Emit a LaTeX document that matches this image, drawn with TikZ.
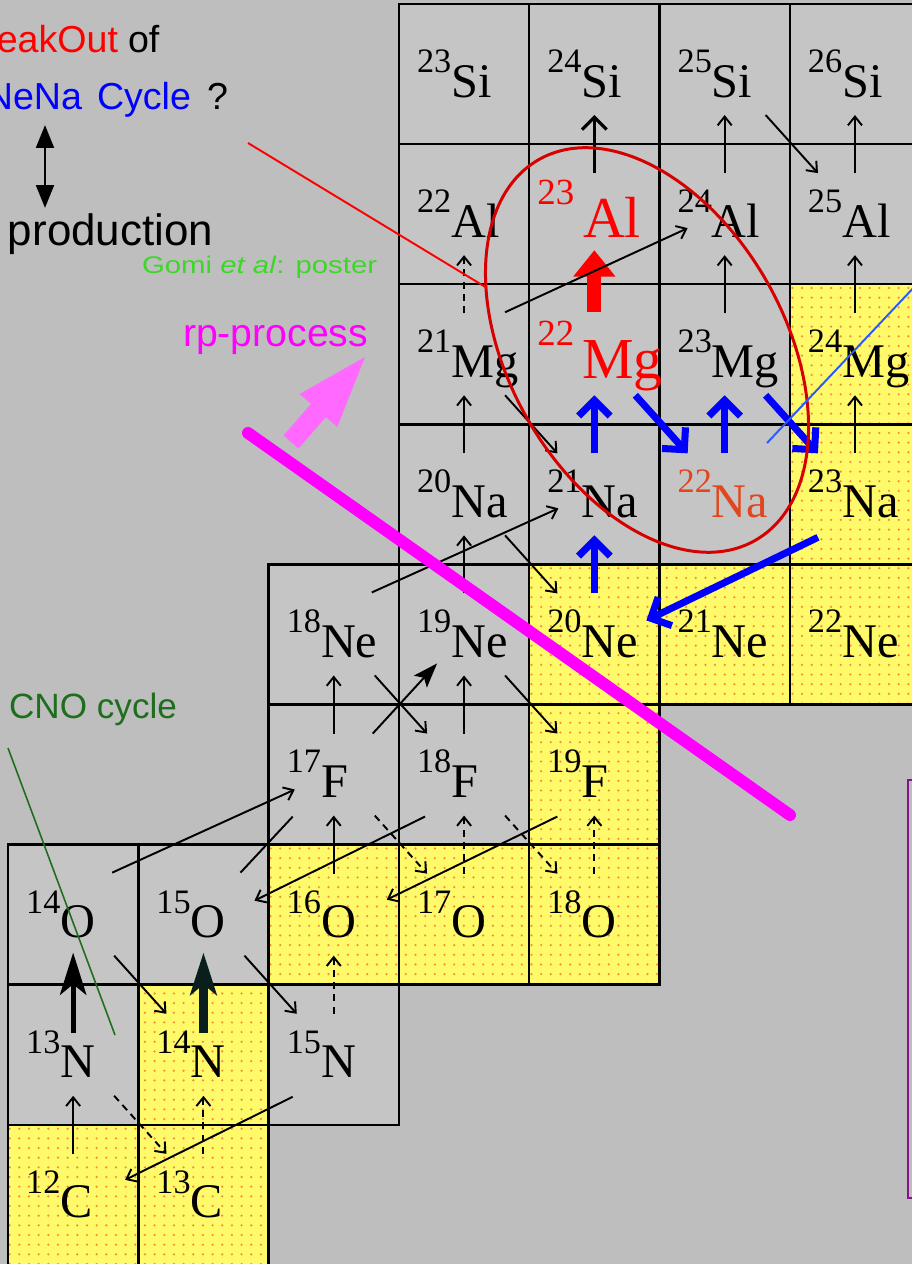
\documentclass[tikz,border=0pt]{standalone}
\usepackage{fontspec}
\setmainfont{Liberation Serif}
\newfontfamily\sansf{Liberation Sans}
\usepackage{graphicx}
\usetikzlibrary{calc,arrows.meta,patterns}

\pgfdeclarepatternformonly{sparsedots}{\pgfqpoint{-1pt}{-1pt}}{\pgfqpoint{1pt}{1pt}}{\pgfqpoint{5.5pt}{5.5pt}}{\pgfpathcircle{\pgfqpoint{0pt}{0pt}}{0.7pt}\pgfusepath{fill}}

\definecolor{bg}{RGB}{190,190,190}
\definecolor{cellg}{RGB}{197,197,197}
\definecolor{yel}{RGB}{255,250,105}
\definecolor{dotc}{RGB}{245,140,60}
\definecolor{blu}{RGB}{0,0,255}
\definecolor{thinblue}{RGB}{40,90,255}
\definecolor{ellred}{RGB}{215,0,0}
\definecolor{mag}{RGB}{255,0,255}
\definecolor{pinkarr}{RGB}{255,105,255}
\definecolor{naor}{RGB}{225,70,30}
\definecolor{cnogreen}{RGB}{30,110,30}
\definecolor{gomigreen}{RGB}{60,215,40}
\definecolor{purp}{RGB}{130,20,140}
\definecolor{darkteal}{RGB}{10,30,30}

\newcommand\cellat[4]{%
  \path[#4] ({8+130.3*#2},{4+140.1*#3}) rectangle ++(130.3,140.1);
  \coordinate (#1) at ({73.15+130.3*#2},{74.05+140.1*#3});}
\newcommand\cellborder[1]{\draw[cellln] ($(#1)+(-65.15,-70.05)$) rectangle ($(#1)+(65.15,70.05)$);}
\newcommand\labat[4]{\node[lab,text=#4] (#1l) at ($(#1)+(-47,23)$)
  {\raisebox{14pt}{\fontsize{19.5}{20}\selectfont #2}\fontsize{27.5}{28}\selectfont #3};}
\newcommand\pcap[3][tarr]{\draw[#1] ($(#2)+(0,-41)$) -- ($(#3)+(0,41)$);}
\newcommand\bdec[3][tarr]{\draw[#1] ($(#2)+(41,41)$) -- ($(#3)+(-37,-41)$);}

\tikzset{
 lab/.style={anchor=base west, inner sep=0pt, outer sep=0pt},
 gcell/.style={fill=cellg},
 ycell/.style={fill=yel, postaction={pattern=sparsedots, pattern color=dotc}},
 cellln/.style={draw=black, line width=1.4pt},
 tarr/.style={line width=1.1pt, -{Straight Barb[length=5pt,width=8pt]}},
 darr/.style={tarr, dash pattern=on 4pt off 3pt},
 boldarr/.style={line width=1.8pt, -{Straight Barb[length=7pt,width=14pt]}},
 blarr/.style={draw=blu, line width=4pt, -{Straight Barb[length=9pt,width=18pt]}},
 redblk/.style={draw=red, line width=8pt, -{Triangle[length=15pt,width=23pt]}},
 bigarr/.style={line width=2.8pt, -{Stealth[length=24pt,width=15pt,inset=6pt]}},
 boldtip/.style={line width=1.1pt, -{Stealth[length=14pt,width=10pt,inset=3pt]}},
 thinline/.style={line width=1.1pt},
 dblarr/.style={line width=1.7pt, {Triangle[length=13pt,width=10pt]}-{Triangle[length=13pt,width=10pt]}},
 ttl/.style={lab, font={\sansf\fontsize{21.4}{24}\selectfont}},
}

\begin{document}
\begin{tikzpicture}[x=0.02cm,y=-0.02cm]
\useasboundingbox (0,0) rectangle (912,1264);
\clip (0,0) rectangle (912,1264);
\fill[bg] (0,0) rectangle (912,1264);

% cells
\cellat{Si23}{3}{0}{gcell}\cellat{Si24}{4}{0}{gcell}\cellat{Si25}{5}{0}{gcell}\cellat{Si26}{6}{0}{gcell}
\cellat{Al22}{3}{1}{gcell}\cellat{Al23}{4}{1}{gcell}\cellat{Al24}{5}{1}{gcell}\cellat{Al25}{6}{1}{gcell}
\cellat{Mg21}{3}{2}{gcell}\cellat{Mg22}{4}{2}{gcell}\cellat{Mg23}{5}{2}{gcell}\cellat{Mg24}{6}{2}{ycell}
\cellat{Na20}{3}{3}{gcell}\cellat{Na21}{4}{3}{gcell}\cellat{Na22}{5}{3}{gcell}\cellat{Na23}{6}{3}{ycell}
\cellat{Ne18}{2}{4}{gcell}\cellat{Ne19}{3}{4}{gcell}\cellat{Ne20}{4}{4}{ycell}\cellat{Ne21}{5}{4}{ycell}\cellat{Ne22}{6}{4}{ycell}
\cellat{F17}{2}{5}{gcell}\cellat{F18}{3}{5}{gcell}\cellat{F19}{4}{5}{ycell}
\cellat{O14}{0}{6}{gcell}\cellat{O15}{1}{6}{gcell}\cellat{O16}{2}{6}{ycell}\cellat{O17}{3}{6}{ycell}\cellat{O18}{4}{6}{ycell}
\cellat{N13}{0}{7}{gcell}\cellat{N14}{1}{7}{ycell}\cellat{N15}{2}{7}{gcell}
\cellat{C12}{0}{8}{ycell}\cellat{C13}{1}{8}{ycell}
\foreach \n in {Si23,Si24,Si25,Si26,Al22,Al23,Al24,Al25,Mg21,Mg22,Mg23,Mg24,Na20,Na21,Na22,Na23,Ne18,Ne19,Ne20,Ne21,Ne22,F17,F18,F19,O14,O15,O16,O17,O18,N13,N14,N15,C12,C13}{\cellborder{\n}}

% labels
\labat{Si23}{23}{Si}{black}\labat{Si24}{24}{Si}{black}\labat{Si25}{25}{Si}{black}\labat{Si26}{26}{Si}{black}
\labat{Al22}{22}{Al}{black}\labat{Al24}{24}{Al}{black}\labat{Al25}{25}{Al}{black}
\labat{Mg21}{21}{Mg}{black}\labat{Mg23}{23}{Mg}{black}\labat{Mg24}{24}{Mg}{black}
\labat{Na20}{20}{Na}{black}\labat{Na21}{21}{Na}{black}\labat{Na22}{22}{Na}{naor}\labat{Na23}{23}{Na}{black}
\labat{Ne18}{18}{Ne}{black}\labat{Ne19}{19}{Ne}{black}\labat{Ne20}{20}{Ne}{black}\labat{Ne21}{21}{Ne}{black}\labat{Ne22}{22}{Ne}{black}
\labat{F17}{17}{F}{black}\labat{F18}{18}{F}{black}\labat{F19}{19}{F}{black}
\labat{O14}{14}{O}{black}\labat{O15}{15}{O}{black}\labat{O16}{16}{O}{black}\labat{O17}{17}{O}{black}\labat{O18}{18}{O}{black}
\labat{N13}{13}{N}{black}\labat{N14}{14}{N}{black}\labat{N15}{15}{N}{black}
\labat{C12}{12}{C}{black}\labat{C13}{13}{C}{black}
\node[lab,text=red] (Al23l) at ($(Al23)+(-57,23)$)
  {\raisebox{18.5pt}{\fontsize{21}{21}\selectfont 23}\kern5pt\fontsize{33}{33}\selectfont Al};
\node[lab,text=red] (Mg22l) at ($(Mg22)+(-57,24)$)
  {\raisebox{18.5pt}{\fontsize{21}{21}\selectfont 22}\kern4.5pt\fontsize{33}{33}\selectfont Mg};

% proton captures
\pcap{Al24}{Si25}\pcap{Al25}{Si26}\pcap{Mg23}{Al24}\pcap{Mg24}{Al25}
\pcap{Na20}{Mg21}\pcap{Na23}{Mg24}\pcap{Ne19}{Na20}\pcap{F17}{Ne18}
\pcap{F18}{Ne19}\pcap{O16}{F17}\pcap{C12}{N13}
\pcap[darr]{Mg21}{Al22}\pcap[darr]{O17}{F18}\pcap[darr]{O18}{F19}
\pcap[darr]{N15}{O16}\pcap[darr]{C13}{N14}
\pcap[boldarr]{Al23}{Si24}
\pcap[blarr]{Na21}{Mg22}\pcap[blarr]{Na22}{Mg23}\pcap[blarr]{Ne20}{Na21}
\draw[redblk] ($(Mg22)+(0,-42)$) -- ($(Al23)+(0,36)$);
\draw[bigarr] ($(N13)+(0,-22)$) -- ($(O14)+(0,38)$);
\draw[bigarr,draw=darkteal,fill=darkteal,line width=5pt] ($(N14)+(0,-22)$) -- ($(O15)+(0,38)$);

% beta decays
\bdec{Si25}{Al25}\bdec{Mg21}{Na21}\bdec{Na20}{Ne20}\bdec{Ne18}{F18}
\bdec{Ne19}{F19}\bdec{O14}{N14}\bdec{O15}{N15}
\bdec[darr]{F17}{O17}\bdec[darr]{F18}{O18}\bdec[darr]{N13}{C13}
\bdec[blarr]{Mg22}{Na22}\bdec[blarr]{Mg23}{Na23}

% alpha reactions
\draw[tarr] ($(O14)+(39,-42)$) -- ($(F17)+(-39,15)$);
\draw[tarr] ($(Ne18)+(38,-42)$) -- ($(Na21)+(-36,14)$);
\draw[tarr] ($(Mg21)+(41,-42)$) -- ($(Al24)+(-37,14)$);
\draw[tarr] ($(F18)+(-39,42)$) -- ($(O15)+(51,-14)$);
\draw[tarr] ($(F19)+(-37,42)$) -- ($(O16)+(53,-15)$);
\draw[tarr] ($(N15)+(-41,42)$) -- ($(C12)+(52,-15)$);
\draw[blarr] ($(Na23)+(-37,43)$) -- ($(Ne20)+(52,-14)$);
\draw[thinline] ($(O15)+(37,-42)$) -- ($(F17)+(-41,42)$);
\draw[boldtip] ($(F17)+(39,-41)$) -- ($(Ne19)+(-27,29)$);

% ellipse and lines
\coordinate (ecen) at (647,350);
\draw[ellred, line width=1.7pt, rotate around={-60.4:(ecen)}] (ecen) ellipse [x radius=219, y radius=138];
\coordinate (rl1) at (248,143); \coordinate (rl2) at (487,288);
\draw[red, line width=1.1pt] (rl1) -- (rl2);
\coordinate (bl1) at (767,443); \coordinate (bl2) at (935,265);
\draw[thinblue, line width=1.1pt] (bl1) -- (bl2);
\coordinate (ml1) at (248,433); \coordinate (ml2) at (790,815);
\draw[mag, line width=6.8pt, line cap=round] (ml1) -- (ml2);
\fill[pinkarr] (283.5,435.5) -- (311,403.9) -- (299.7,394) -- (365,357) -- (337.3,426.8) -- (326,417) -- (298.5,448.5) -- cycle;
\coordinate (gl1) at (8,748); \coordinate (gl2) at (115,1035);
\draw[cnogreen, line width=0.9pt] (gl1) -- (gl2);
\draw[purp, line width=1.2pt] (908,780) rectangle (940,1198);

% texts
\node[ttl, anchor=base east, text=red] (bo) at (118,53) {BreakOut};
\node[ttl] (of) at (128,53) {of};
\node[ttl, anchor=base east, text=blu] (nena) at (82,110) {NeNa};
\node[ttl, text=blu] (cyc) at (97,110) {Cycle};
\node[ttl] (qm) at (207,110) {?};
\coordinate (da1) at (45,125); \coordinate (da2) at (45,208);
\draw[dblarr] (da1) -- (da2);
\node[lab, font={\sansf\fontsize{25}{28}\selectfont}] (prod) at (8,245) {production};
\node[lab, text=gomigreen, font={\sansf\fontsize{13.7}{15}\selectfont}] (gomi) at (142,273) {\scalebox{1.22}[1]{Gomi \textit{et al}: poster}};
\node[lab, text=mag, font={\sansf\fontsize{22.3}{24}\selectfont}] (rp) at (183,346) {rp-process};
\node[lab, anchor=base east, text=cnogreen, font={\sansf\fontsize{20}{22}\selectfont}] (cno) at (177,718) {CNO cycle};
\end{tikzpicture}
\end{document}
